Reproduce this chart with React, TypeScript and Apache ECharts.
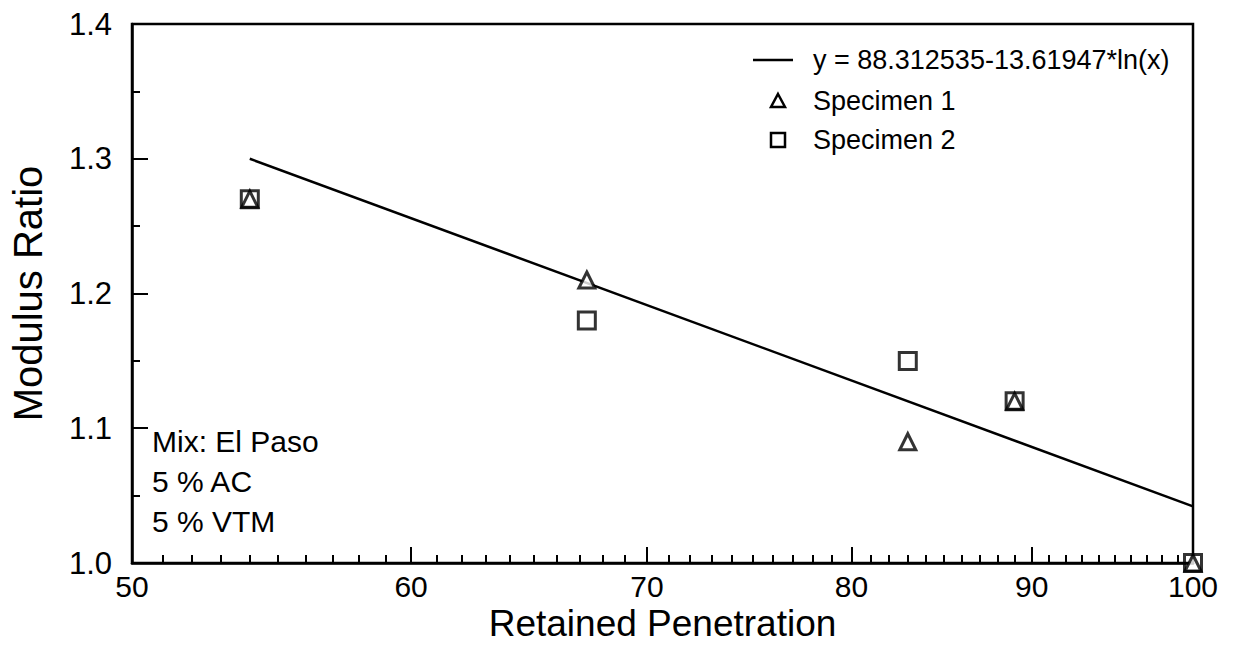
import React, { useEffect, useRef } from "react";
import * as echarts from "echarts";

// Measured points: retained penetration (%) vs modulus ratio
const specimen1X = [54, 67.3, 83, 89, 100];
const specimen1Y = [1.27, 1.21, 1.09, 1.12, 1.0];
const specimen2X = [54, 67.3, 83, 89, 100];
const specimen2Y = [1.27, 1.18, 1.15, 1.12, 1.0];

// Fitted logarithmic trend (straight on a log x scale), end points
const fitX = [54, 100];
const fitY = [1.3, 1.042];

// Axis ticks
const xMajorTicks = [50, 60, 70, 80, 90, 100];
const xMinorTicks = [
  51, 52, 53, 54, 55, 56, 57, 58, 59,
  61, 62, 63, 64, 65, 66, 67, 68, 69,
  71, 72, 73, 74, 75, 76, 77, 78, 79,
  81, 82, 83, 84, 85, 86, 87, 88, 89,
  91, 92, 93, 94, 95, 96, 97, 98, 99,
];

const fitLabel = "y = 88.312535-13.61947*ln(x)";
const seriesNames = ["Specimen 1", "Specimen 2"];
const noteLines = ["Mix: El Paso", "5 % AC", "5 % VTM"];

const FONT = "'Liberation Sans', Arial, Helvetica, sans-serif";

export default function App() {
  const ref = useRef<HTMLDivElement>(null);

  useEffect(() => {
    if (!ref.current) return;
    const chart = echarts.init(ref.current, undefined, { renderer: "svg" });

    const zip = (xs: number[], ys: number[]) => xs.map((x, i) => [x, ys[i]]);

    // Legend block drawn as graphics: line sample, triangle, square and labels
    const lx = 778;
    const rowY = [60, 101, 140];
    const textX = 813;
    const legendGraphics: any[] = [
      {
        type: "line",
        shape: { x1: lx - 25, y1: rowY[0], x2: lx + 15, y2: rowY[0] },
        style: { stroke: "#000", lineWidth: 2.5 },
      },
      {
        type: "polygon",
        shape: { points: [[lx, rowY[1] - 7], [lx + 7, rowY[1] + 6], [lx - 7, rowY[1] + 6]] },
        style: { fill: "#fff", stroke: "#000", lineWidth: 2.5 },
      },
      {
        type: "rect",
        shape: { x: lx - 7, y: rowY[2] - 7, width: 14, height: 14 },
        style: { fill: "#fff", stroke: "#000", lineWidth: 2.5 },
      },
      ...[fitLabel, ...seriesNames].map((t, i) => ({
        type: "text",
        x: textX,
        y: rowY[i],
        style: {
          text: t,
          fontFamily: FONT,
          fontSize: 27,
          fill: "#000",
          verticalAlign: "middle",
          align: "left",
        },
      })),
    ];

    const noteGraphics = noteLines.map((t, i) => ({
      type: "text",
      x: 152,
      y: 441 + i * 40,
      style: {
        text: t,
        fontFamily: FONT,
        fontSize: 30,
        fill: "#000",
        verticalAlign: "middle",
        align: "left",
      },
    }));

    chart.setOption({
      animation: false,
      backgroundColor: "#ffffff",
      textStyle: { fontFamily: FONT, color: "#000" },
      grid: {
        left: 126,
        right: 41,
        top: 24,
        bottom: 91,
        show: true,
        borderColor: "#000",
        borderWidth: 2.5,
        backgroundColor: "transparent",
      },
      xAxis: [
        {
          type: "log",
          logBase: 10,
          min: 50,
          max: 100,
          position: "bottom",
          name: "Retained Penetration",
          nameLocation: "middle",
          nameGap: 45,
          nameMoveOverlap: false,
          nameTextStyle: { fontFamily: FONT, fontSize: 37, lineHeight: 30, color: "#000" },
          axisLine: { onZero: false, lineStyle: { color: "#000", width: 2.5 } },
          axisTick: {
            inside: true,
            length: 16,
            lineStyle: { color: "#000", width: 2 },
            customValues: xMajorTicks,
          },
          axisLabel: {
            fontFamily: FONT,
            fontSize: 30,
            lineHeight: 26,
            color: "#000",
            margin: 10,
            customValues: xMajorTicks,
            formatter: (v: number) => String(Math.round(v)),
          },
          splitLine: { show: false },
          minorTick: { show: false },
        },
        {
          type: "log",
          logBase: 10,
          min: 50,
          max: 100,
          position: "bottom",
          axisLine: { show: false, onZero: false },
          axisTick: {
            inside: true,
            length: 8,
            lineStyle: { color: "#000", width: 2 },
            customValues: xMinorTicks,
          },
          axisLabel: { show: false },
          splitLine: { show: false },
        },
      ],
      yAxis: {
        type: "value",
        min: 1.0,
        max: 1.4,
        interval: 0.1,
        name: "Modulus Ratio",
        nameLocation: "middle",
        nameRotate: 90,
        nameGap: 84,
        nameMoveOverlap: false,
        nameTextStyle: { fontFamily: FONT, fontSize: 40, color: "#000" },
        axisLine: { show: true, onZero: false, lineStyle: { color: "#000", width: 2.5 } },
        axisTick: { show: true, inside: true, length: 16, lineStyle: { color: "#000", width: 2 } },
        minorTick: { show: true, splitNumber: 2, length: 8, lineStyle: { color: "#000", width: 2 } },
        axisLabel: {
          fontFamily: FONT,
          fontSize: 31,
          color: "#000",
          margin: 20,
          formatter: (v: number) => v.toFixed(1),
        },
        splitLine: { show: false },
      },
      series: [
        {
          name: fitLabel,
          type: "line",
          xAxisIndex: 0,
          data: zip(fitX, fitY),
          symbol: "none",
          lineStyle: { color: "#000", width: 2.5 },
          itemStyle: { color: "#000" },
          clip: false,
          z: 2,
        },
        {
          name: seriesNames[0],
          type: "scatter",
          xAxisIndex: 0,
          data: zip(specimen1X, specimen1Y),
          symbol: "triangle",
          symbolSize: 16,
          itemStyle: { color: "#fff", borderColor: "#000", borderWidth: 3 },
          clip: false,
          z: 4,
        },
        {
          name: seriesNames[1],
          type: "scatter",
          xAxisIndex: 0,
          data: zip(specimen2X, specimen2Y),
          symbol: "rect",
          symbolSize: 17,
          itemStyle: { color: "transparent", borderColor: "#000", borderWidth: 3 },
          clip: false,
          z: 5,
        },
      ],
      graphic: [...legendGraphics, ...noteGraphics],
    });

    return () => chart.dispose();
  }, []);

  return <div ref={ref} style={{ width: 1234, height: 654, margin: -8 }} />;
}
